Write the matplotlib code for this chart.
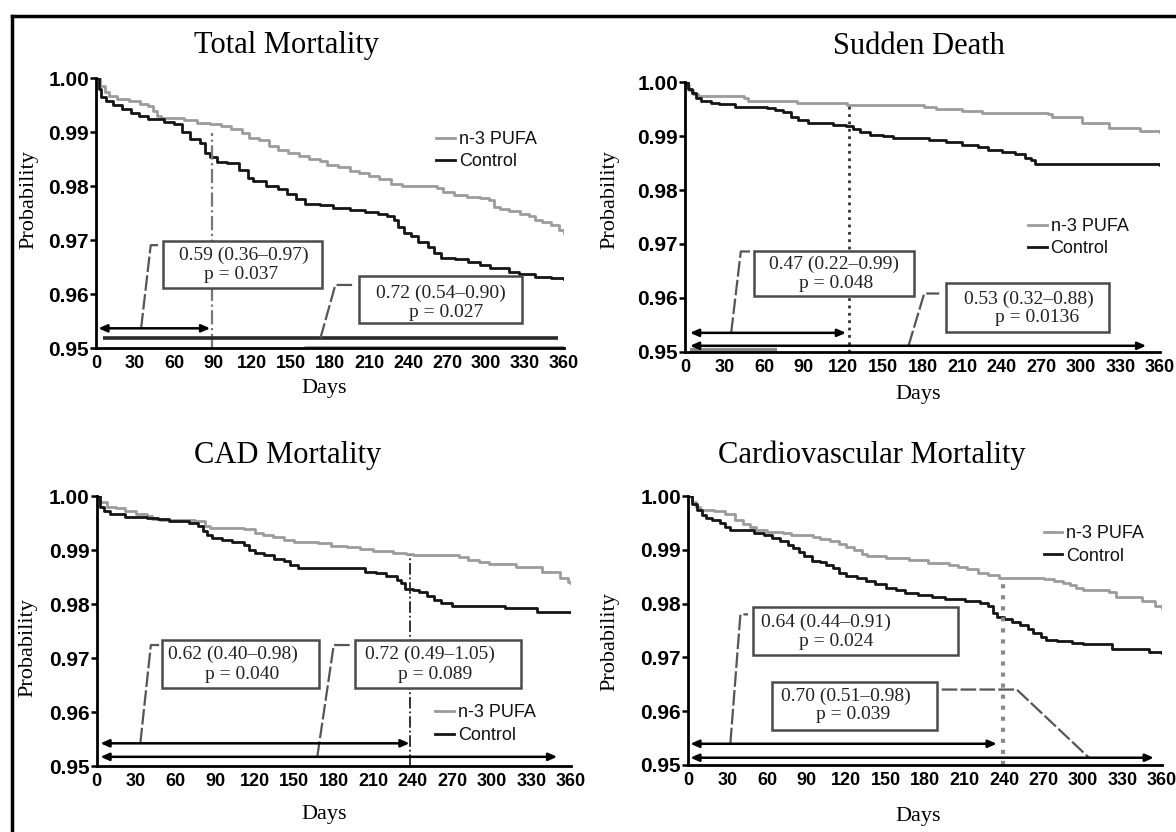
"""
Kaplan-Meier style survival curves: n-3 PUFA vs Control, four endpoints.
"""

import matplotlib
matplotlib.use('Agg')
import matplotlib.pyplot as plt
from matplotlib.lines import Line2D
from matplotlib.patches import Rectangle

# ── Data ──────────────────────────────────────────────────────
titles = ['Total Mortality', 'Sudden Death', 'CAD Mortality',
          'Cardiovascular Mortality']
series_names = ['n-3 PUFA', 'Control']

tm_pufa_days = [0, 3, 7, 10, 16, 25, 34, 40, 44, 47, 50, 68, 78, 88, 96, 104,
                112, 118, 125, 133, 140, 148, 156, 164, 172, 178, 186, 195,
                202, 210, 218, 227, 235, 262, 267, 275, 285, 295, 302, 306,
                311, 318, 326, 333, 338, 343, 350, 356, 360]
tm_pufa = [1.0, .9985, .9975, .9968, .9962, .9958, .9953, .9948, .994, .993,
           .9926, .9922, .9918, .9916, .9912, .9906, .9898, .989, .9885,
           .9875, .9868, .9862, .9857, .985, .9847, .984, .9835, .9829,
           .9825, .982, .9813, .9805, .9801, .9797, .9789, .9783, .978,
           .9778, .9775, .9762, .9758, .9755, .9748, .9745, .9737, .9733,
           .9728, .972, .9714]
tm_ctrl_days = [0, 2, 4, 8, 13, 20, 27, 33, 40, 52, 60, 66, 72, 80, 84, 88,
                93, 101, 110, 117, 121, 131, 140, 147, 154, 161, 172, 182,
                195, 207, 217, 224, 229, 232, 237, 242, 248, 255, 260, 265,
                276, 286, 295, 303, 318, 325, 338, 350, 360]
tm_ctrl = [1.0, .998, .9965, .9958, .995, .9943, .9935, .993, .9925, .992,
           .9915, .990, .9887, .988, .9862, .9855, .9845, .9843, .983, .9815,
           .981, .980, .9795, .9786, .9776, .9768, .9765, .976, .9756, .9753,
           .9748, .9745, .9738, .9725, .9713, .9708, .9697, .9688, .9677,
           .9668, .9665, .966, .9655, .9648, .9642, .9637, .9632, .963, .9629]

sd_pufa_days = [0, 3, 6, 10, 45, 48, 85, 123, 181, 190, 210, 225, 275, 278,
                301, 321, 345, 360]
sd_pufa = [.9995, .9985, .9978, .9974, .997, .9966, .9962, .9957, .9954,
           .995, .9947, .9943, .9941, .9935, .9925, .9915, .9909, .9908]
sd_ctrl_days = [0, 2, 5, 8, 12, 20, 26, 38, 62, 68, 74, 80, 86, 93, 112, 122,
                127, 133, 140, 150, 158, 185, 198, 210, 222, 230, 240, 250,
                258, 262, 265, 271, 360]
sd_ctrl = [1.0, .9988, .998, .997, .9965, .9962, .996, .9955, .9952, .9948,
           .9944, .9935, .993, .9925, .992, .9918, .9913, .9908, .9903, .99,
           .9897, .9893, .9889, .9884, .988, .9874, .987, .9866, .986, .9855,
           .9849, .9848, .9847]

cad_pufa_days = [0, 3, 8, 15, 22, 30, 38, 42, 48, 75, 82, 86, 112, 120, 126,
                 134, 142, 150, 168, 178, 190, 200, 210, 225, 235, 240, 275,
                 282, 290, 298, 318, 338, 352, 358, 360]
cad_pufa = [1.0, .9988, .998, .9977, .9972, .9966, .9963, .9958, .9956,
            .9953, .9945, .9941, .9938, .9932, .9928, .9924, .9918, .9915,
            .9913, .9908, .9905, .9902, .9898, .9895, .9892, .989, .9887,
            .9882, .9878, .9874, .9868, .986, .9848, .984, .9838]
cad_ctrl_days = [0, 3, 6, 10, 22, 38, 47, 55, 70, 77, 81, 84, 88, 95, 103,
                 112, 116, 120, 127, 135, 142, 147, 153, 204, 212, 220, 228,
                 231, 234, 240, 245, 251, 256, 261, 270, 310, 334, 360]
cad_ctrl = [1.0, .998, .9972, .9966, .9962, .996, .9957, .9953, .995, .9945,
            .9935, .9928, .9922, .9918, .9915, .991, .990, .9894, .989,
            .9884, .9879, .9872, .9866, .986, .9857, .9851, .9845, .9838,
            .9828, .9826, .9822, .9815, .9808, .9802, .9797, .9792, .9786,
            .9786]

cv_pufa_days = [0, 3, 6, 9, 20, 28, 36, 42, 47, 52, 60, 72, 78, 95, 100, 108,
                115, 120, 126, 132, 136, 150, 168, 182, 198, 205, 212, 220,
                228, 236, 270, 278, 285, 290, 295, 300, 320, 325, 345, 355,
                360]
cv_pufa = [1.0, .999, .998, .9975, .9972, .9967, .9955, .9948, .9942, .9937,
           .9934, .9932, .9928, .9925, .9921, .9917, .9912, .9906, .99,
           .9893, .9888, .9885, .9882, .9875, .9872, .9868, .9864, .9858,
           .9853, .9848, .9846, .9842, .9838, .9835, .9829, .9825, .9821,
           .9812, .9805, .9795, .9792]
cv_ctrl_days = [0, 3, 7, 11, 14, 18, 24, 28, 32, 50, 58, 64, 70, 76, 80, 84,
                88, 94, 100, 105, 110, 115, 120, 128, 135, 142, 150, 158, 165,
                175, 185, 195, 210, 222, 228, 232, 235, 240, 246, 252, 258,
                262, 268, 272, 280, 292, 300, 322, 350, 360]
cv_ctrl = [1.0, .9985, .9975, .9966, .996, .9955, .995, .9942, .9937, .9932,
           .9928, .9923, .9917, .991, .9903, .9897, .9888, .988, .9877,
           .9872, .9866, .9858, .9852, .9848, .9842, .9837, .983, .9825,
           .982, .9817, .9813, .9808, .9805, .9802, .9795, .9782, .9775,
           .9772, .9765, .976, .9752, .9746, .9738, .9732, .973, .9727,
           .9725, .9716, .971, .9708]

# hazard ratio (95% CI) and p-value shown in the boxes
hr_labels = [
    [('0.59 (0.36–0.97)', 'p = 0.037'), ('0.72 (0.54–0.90)', 'p = 0.027')],
    [('0.47 (0.22–0.99)', 'p = 0.048'), ('0.53 (0.32–0.88)', 'p = 0.0136')],
    [('0.62 (0.40–0.98)', 'p = 0.040'), ('0.72 (0.49–1.05)', 'p = 0.089')],
    [('0.64 (0.44–0.91)', 'p = 0.024'), ('0.70 (0.51–0.98)', 'p = 0.039')],
]
x_ticks = list(range(0, 361, 30))
y_ticks = [0.95, 0.96, 0.97, 0.98, 0.99, 1.00]

# ── Layout (pixels of the 1176x832 canvas) ────────────────────
W, H = 1176, 832
SERIF = 'Liberation Serif'
SANS = 'Liberation Sans'
PUFA_COLOR = '#9c9c9c'
CTRL_COLOR = '#151515'

panels = [
    dict(days=(tm_pufa_days, tm_ctrl_days), vals=(tm_pufa, tm_ctrl),
         box=(96, 564, 78.3, 348.3), title_xy=(287, 46), ylab_xy=(29, 200),
         xlab_xy=(324, 388), legend_xy=(0.727, 0.732),
         frames=[(51.4, 174, 0.9611, 0.96994), (202, 328, 0.9546, 0.9633)],
         text_x=[(114, 111.5), (265, 269)], text_y=[(0.9673, 0.9636), (0.9601, 0.9567)],
         links=[[(34.7, 0.9537), (42.1, 0.9691), (48, 0.9691)],
                [(172.6, 0.95185), (184.1, 0.96173), (198.3, 0.96173)]],
         arrows=[(1.8, 87.8, 0.9537)],
         bars=[(5.6, 355, 0.95185, '#2a2a2a', 2.6), (160, 360, 0.9503, '#9a9a9a', 2.0)],
         vline=(89, 0.9898, '-.', '#777777', 1.6)),
    dict(days=(sd_pufa_days, sd_ctrl_days), vals=(sd_pufa, sd_ctrl),
         box=(685, 1160, 82.3, 351.7), title_xy=(919, 46), ylab_xy=(610, 200),
         xlab_xy=(918, 394), legend_xy=(0.722, 0.423),
         frames=[(52, 173.7, 0.9603, 0.9686), (197.8, 321.6, 0.9537, 0.9627)],
         text_x=[(113.3, 114.6), (261, 266.7)], text_y=[(0.9663, 0.9627), (0.9597, 0.9563)],
         links=[[(35, 0.9535), (42.3, 0.9686), (49.4, 0.9686)],
                [(169.4, 0.9511), (181.3, 0.9608), (192.7, 0.9608)]],
         arrows=[(3.8, 122, 0.9535), (3.8, 349.5, 0.9511)],
         bars=[(3.8, 70, 0.9503, '#8a8a8a', 3.0)],
         vline=(124, 0.9958, ':', '#333333', 2.0)),
    dict(days=(cad_pufa_days, cad_ctrl_days), vals=(cad_pufa, cad_ctrl),
         box=(96.5, 571, 496, 766), title_xy=(288, 455), ylab_xy=(28, 648),
         xlab_xy=(324, 815), legend_xy=(0.714, 0.155),
         frames=[(50, 168.75, 0.9644, 0.9733), (195.75, 322.4, 0.9644, 0.9733)],
         text_x=[(103.75, 110.5), (253, 256.75)], text_y=[(0.9706, 0.967), (0.9706, 0.967)],
         links=[[(33.25, 0.9542), (41.25, 0.9724), (47.5, 0.9724)],
                [(167.5, 0.9517), (169, 0.9542), (180, 0.9724), (192.5, 0.9724)]],
         arrows=[(3, 237.5, 0.9542), (3, 349.5, 0.9517)],
         bars=[],
         vline=(238, 0.989, '-.', '#222222', 1.3)),
    dict(days=(cv_pufa_days, cv_ctrl_days), vals=(cv_pufa, cv_ctrl),
         box=(688, 1162, 496.3, 764.7), title_xy=(872, 455), ylab_xy=(610, 642),
         xlab_xy=(918, 817), legend_xy=(0.75, 0.819),
         frames=[(49.4, 205.4, 0.9705, 0.9794), (64.1, 188.9, 0.9564, 0.9654)],
         text_x=[(104.5, 112.8), (119.7, 125.5)], text_y=[(0.9765, 0.973), (0.9627, 0.9593)],
         links=[[(32.2, 0.954), (39.8, 0.978), (45.6, 0.978)],
                [(192.7, 0.964), (249.7, 0.964), (305, 0.9512)]],
         arrows=[(1.8, 234.5, 0.9539), (1.8, 353.8, 0.9513)],
         bars=[],
         vline=(239, 0.9842, ':', '#8a8a8a', 3.0)),
]
# ───────────────────────────────────────────────────────────────


def px_rect(left, right, top, bottom):
    return [left / W, 1 - bottom / H, (right - left) / W, (bottom - top) / H]


def draw_panel(fig, p, title, labels):
    ax = fig.add_axes(px_rect(*p['box']))

    # curves
    for days, vals, color, name in zip(p['days'], p['vals'],
                                       (PUFA_COLOR, CTRL_COLOR), series_names):
        ax.step(days, vals, where='post', color=color, lw=2.0, label=name)

    # annotation graphics
    vx, vtop, vls, vcol, vlw = p['vline']
    ax.plot([vx, vx], [0.95, vtop], ls=vls, color=vcol, lw=vlw)
    for x0, x1, y, col, lw in p['bars']:
        ax.plot([x0, x1], [y, y], color=col, lw=lw, solid_capstyle='butt')
    for x0, x1, y in p['arrows']:
        ax.annotate('', xy=(x1, y), xytext=(x0, y),
                    arrowprops=dict(arrowstyle='<|-|>,head_length=0.5,head_width=0.22',
                                    color='black', lw=1.8, shrinkA=0, shrinkB=0,
                                    mutation_scale=10))
    for pts in p['links']:
        xs, ys = zip(*pts)
        ax.plot(xs, ys, color='#555555', lw=1.6, ls=(0, (7, 1.5)))
    for (x0, x1, y0, y1), tx, ty, (l1, l2) in zip(p['frames'], p['text_x'],
                                                 p['text_y'], labels):
        ax.add_patch(Rectangle((x0, y0), x1 - x0, y1 - y0, fill=True,
                               facecolor='white', edgecolor='#4a4a4a', lw=1.8,
                               zorder=3))
        ax.text(tx[0], ty[0], l1, ha='center', va='center', fontsize=14,
                family=SERIF, zorder=4, color='#222222')
        ax.text(tx[1], ty[1], l2, ha='center', va='center', fontsize=14,
                family=SERIF, zorder=4, color='#222222')

    # axes styling
    ax.set_xlim(0, 360)
    ax.set_ylim(0.95, 1.0)
    for side in ('top', 'right'):
        ax.spines[side].set_visible(False)
    for side in ('left', 'bottom'):
        ax.spines[side].set_linewidth(2.0)
        ax.spines[side].set_color('black')
    ax.set_xticks(x_ticks)
    ax.set_xticks([90, 180, 270, 360], minor=True)
    ax.set_yticks(y_ticks)
    ax.set_yticklabels([f'{v:.2f}' for v in y_ticks])
    ax.tick_params(axis='x', which='major', length=0, pad=5)
    ax.tick_params(axis='x', which='minor', length=7, width=1.8,
                   direction='out')
    ax.tick_params(axis='y', which='major', length=4, width=1.8, pad=1,
                   direction='out')
    for lab in ax.get_xticklabels():
        lab.set_fontfamily(SANS)
        lab.set_fontweight('bold')
        lab.set_fontsize(13)
    for lab in ax.get_yticklabels():
        lab.set_fontfamily(SANS)
        lab.set_fontweight('bold')
        lab.set_fontsize(15)

    leg = ax.legend(loc='center left', bbox_to_anchor=p['legend_xy'],
                    frameon=False, handlelength=1.05, handletextpad=0.2,
                    borderpad=0, borderaxespad=0, labelspacing=0.3,
                    prop={'family': SANS, 'size': 13})
    for txt in leg.get_texts():
        txt.set_color('#111111')

    # titles and axis labels placed on the canvas
    tx, ty = p['title_xy']
    fig.text(tx / W, 1 - ty / H, title, ha='center', va='center',
             fontsize=22, family=SERIF)
    lx, ly = p['ylab_xy']
    fig.text(lx / W, 1 - ly / H, 'Probability', ha='center', va='center',
             rotation=90, fontsize=16, family=SERIF)
    dx, dy = p['xlab_xy']
    fig.text(dx / W, 1 - dy / H, 'Days', ha='center', va='center',
             fontsize=16, family=SERIF)
    return ax


def main():
    fig = plt.figure(figsize=(W / 100, H / 100), dpi=100)
    fig.patch.set_facecolor('white')

    for p, title, labels in zip(panels, titles, hr_labels):
        draw_panel(fig, p, title, labels)

    # scanned-page frame (top and left rules)
    fig.add_artist(Line2D([12 / W, 1], [1 - 16 / H, 1 - 16 / H],
                          transform=fig.transFigure, color='black', lw=2.5))
    fig.add_artist(Line2D([12 / W, 12 / W], [0, 1 - 16 / H],
                          transform=fig.transFigure, color='black', lw=2.5))

    fig.savefig('out.png', dpi=100)


if __name__ == '__main__':
    main()
